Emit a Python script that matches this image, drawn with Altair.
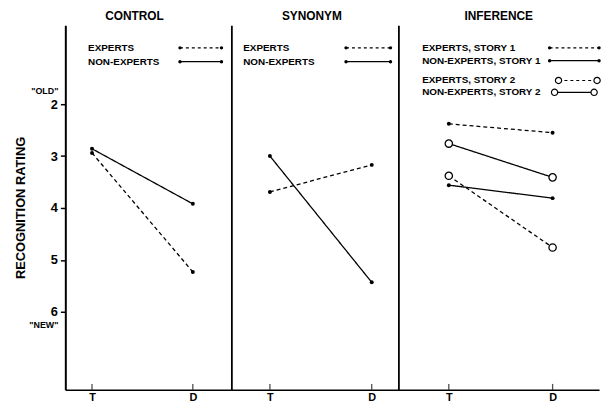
import altair as alt
import pandas as pd

# ---------------- data ----------------
conditions = ["T", "D"]
y_ticks = [2, 3, 4, 5, 6]

control_series = ["EXPERTS", "NON-EXPERTS"]
control_experts = [2.94, 5.23]
control_nonexperts = [2.86, 3.92]

synonym_series = ["EXPERTS", "NON-EXPERTS"]
synonym_experts = [3.69, 3.17]
synonym_nonexperts = [3.00, 5.43]

inference_series = ["EXPERTS, STORY 1", "NON-EXPERTS, STORY 1",
                    "EXPERTS, STORY 2", "NON-EXPERTS, STORY 2"]
inf_experts_s1 = [2.38, 2.55]
inf_nonexperts_s1 = [3.56, 3.81]
inf_experts_s2 = [3.38, 4.76]
inf_nonexperts_s2 = [2.76, 3.41]

# ---------------- helpers ----------------
Y_DOMAIN = [0.48, 7.5]
H = 369
FONT = "Liberation Sans"


def make_df(names, values, dashed, opened):
    rows = []
    for name, vals, d, o in zip(names, values, dashed, opened):
        for i, (c, v) in enumerate(zip(conditions, vals)):
            rows.append({"series": name, "cond": c, "pos": i, "rating": v,
                         "dash": "dashed" if d else "solid",
                         "open": o})
    return pd.DataFrame(rows)


def panel(title, df, width, t_px, d_px, legend_rows, leg_text_x, first=False,
          title_dx=0):
    step = d_px - t_px
    xdom = [-t_px / step, (width - t_px) / step]
    xscale = alt.Scale(domain=xdom, nice=False, zero=False)
    yscale = alt.Scale(domain=Y_DOMAIN, reverse=True, nice=False, zero=False)
    if first:
        yaxis = alt.Axis(values=y_ticks, format="d", title="RECOGNITION RATING",
                         tickSize=5, tickWidth=1.5, labelPadding=3,
                         domainWidth=2, grid=False, titlePadding=23,
                         labelFontSize=13, titleFontSize=13)
    else:
        yaxis = alt.Axis(labels=False, ticks=False, title=None,
                         domainWidth=1.8, grid=False)
    xaxis = alt.Axis(values=[0, 1], labelExpr="datum.value == 0 ? 'T' : 'D'",
                     ticks=False, grid=False, title=None, domainWidth=1.5,
                     labelPadding=2, labelFontSize=11)

    base = alt.Chart(df)
    x = alt.X("pos:Q", scale=xscale, axis=xaxis)
    y = alt.Y("rating:Q", scale=yscale, axis=yaxis)
    lines = base.mark_line(color="black", strokeWidth=1.3).encode(
        x=x, y=y, detail="series:N",
        strokeDash=alt.StrokeDash("dash:N", scale=alt.Scale(
            domain=["solid", "dashed"], range=[[1, 0], [4, 3]]), legend=None),
    )
    dots = base.transform_filter("!datum.open").mark_circle(
        color="black", size=16, opacity=1).encode(x="pos:Q", y="rating:Q")
    circles = base.transform_filter("datum.open").mark_point(
        shape="circle", filled=True, fill="white", stroke="black",
        strokeWidth=1.3, size=55, opacity=1).encode(x="pos:Q", y="rating:Q")
    tick_df = pd.DataFrame({"pos": [0, 1]})
    ticks = alt.Chart(tick_df).mark_tick(
        orient="vertical", size=6, thickness=1.3, color="black",
        yOffset=-3).encode(x="pos:Q", y=alt.datum(Y_DOMAIN[1]))

    layers = [lines, ticks, dots, circles]

    dummy = pd.DataFrame({"k": [0]})
    for (label, ly, dashed, opened, x1, x2) in legend_rows:
        layers.append(alt.Chart(dummy).mark_text(
            align="left", baseline="middle", fontSize=10, fontWeight="bold",
            font=FONT, color="black").encode(
            x=alt.value(leg_text_x), y=alt.value(ly), text=alt.value(label)))
        layers.append(alt.Chart(dummy).mark_rule(
            color="black", strokeWidth=1.2,
            strokeDash=[3, 3] if dashed else [1, 0]).encode(
            x=alt.value(x1), x2=alt.value(x2), y=alt.value(ly)))
        for px in (x1, x2):
            if opened:
                layers.append(alt.Chart(dummy).mark_point(
                    shape="circle", filled=True, fill="white", stroke="black",
                    strokeWidth=1.2, size=40, opacity=1).encode(
                    x=alt.value(px), y=alt.value(ly)))
            else:
                layers.append(alt.Chart(dummy).mark_circle(
                    color="black", size=12, opacity=1).encode(
                    x=alt.value(px), y=alt.value(ly)))
    if first:
        for txt, val in (('"OLD"', 1.74), ('"NEW"', 6.25)):
            layers.append(alt.Chart(dummy).mark_text(
                align="right", baseline="middle", fontSize=9,
                fontWeight="bold", font=FONT, color="black").encode(
                x=alt.value(-7), y=alt.datum(val), text=alt.value(txt)))

    return alt.layer(*layers).properties(
        width=width, height=H,
        title=alt.TitleParams(title, dx=title_dx, offset=2, fontSize=12,
                              fontWeight="bold", font=FONT, color="black"))


control_df = make_df(control_series, [control_experts, control_nonexperts],
                     [True, False], [False, False])
synonym_df = make_df(synonym_series, [synonym_experts, synonym_nonexperts],
                     [True, False], [False, False])
inference_df = make_df(inference_series,
                       [inf_experts_s1, inf_nonexperts_s1,
                        inf_experts_s2, inf_nonexperts_s2],
                       [True, False, True, False],
                       [False, False, True, True])

p1 = panel("CONTROL", control_df, 168, 27, 129,
           [(control_series[0], 23, True, False, 116, 158),
            (control_series[1], 37, False, False, 116, 158)],
           23, first=True, title_dx=-14)
p2 = panel("SYNONYM", synonym_df, 169, 39, 142,
           [(synonym_series[0], 23, True, False, 116, 161),
            (synonym_series[1], 37, False, False, 116, 161)],
           12, title_dx=-3)
p3 = panel("INFERENCE", inference_df, 203, 51, 156,
           [(inference_series[0], 23, True, False, 153, 203),
            (inference_series[1], 36, False, False, 153, 203),
            (inference_series[2], 56, True, True, 162, 201),
            (inference_series[3], 68, False, True, 158, 198)],
           24)

chart = alt.hconcat(p1, p2, p3, spacing=0).properties(
    padding={"left": 6, "top": 0, "right": 0, "bottom": 0}
).configure_view(stroke=None).configure_axis(
    domainColor="black", labelColor="black", titleColor="black",
    tickColor="black", labelFont=FONT, titleFont=FONT,
    labelFontWeight="bold", titleFontWeight="bold"
)

chart.save("out.html", embed_options={"renderer": "svg", "actions": False})
